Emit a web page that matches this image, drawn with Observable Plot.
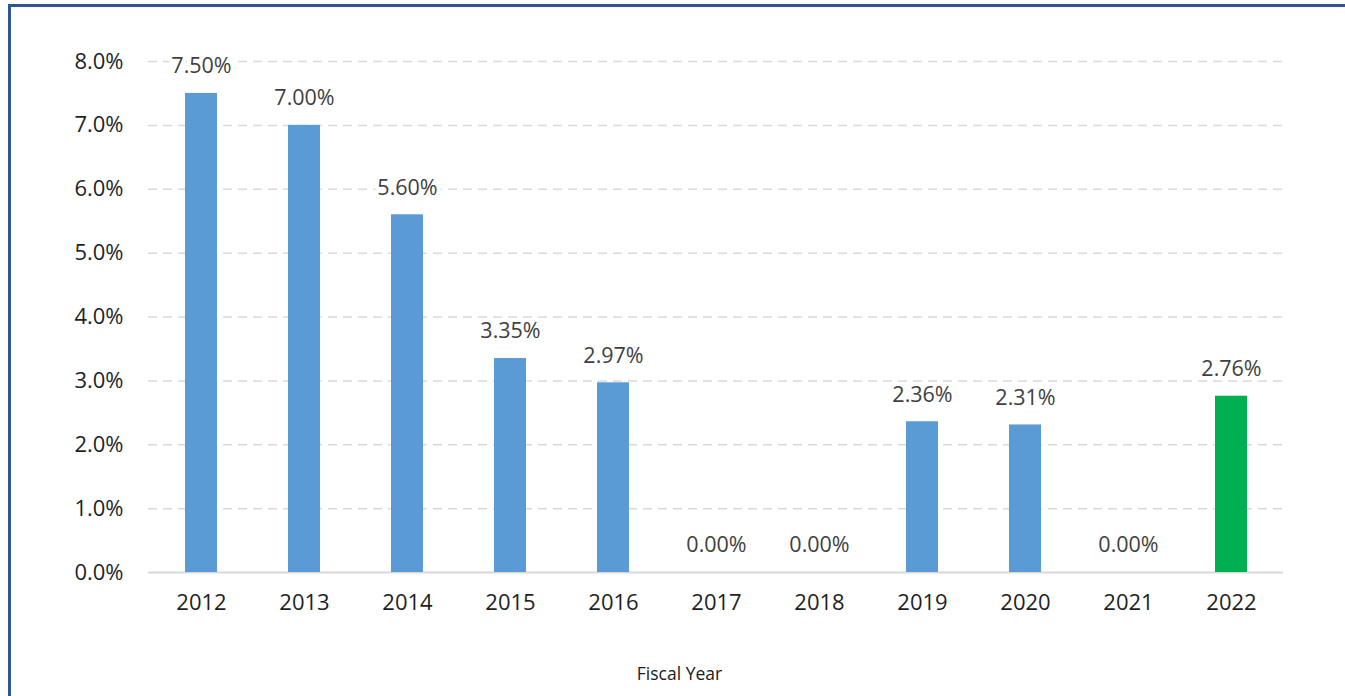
<!DOCTYPE html>
<html>
<head>
<meta charset="utf-8">
<script src="https://cdn.jsdelivr.net/npm/d3@7"></script>
<script src="https://cdn.jsdelivr.net/npm/@observablehq/plot@0.6"></script>
<style>
  html, body { margin: 0; padding: 0; background: #fff; overflow: hidden; }
  #frame { position: absolute; left: 8px; top: 4px; width: 1400px; height: 800px;
           border-top: 3px solid #2f5597; border-left: 3px solid #2f5597; box-sizing: border-box; }
  #chart { position: absolute; left: 0; top: 0; }
  #xlabel { position: absolute; left: 0; width: 1345px; top: 661px; text-align: center;
            font-family: "Open Sans", sans-serif; font-size: 17.5px; color: #1a1a1a; padding-left: 14px; box-sizing: border-box; }
</style>
</head>
<body>
<div id="frame"></div>
<div id="chart"></div>
<div id="xlabel">Fiscal Year</div>
<script>
const years = ["2012","2013","2014","2015","2016","2017","2018","2019","2020","2021","2022"];
const rates = [7.50, 7.00, 5.60, 3.35, 2.97, 0.00, 0.00, 2.36, 2.31, 0.00, 2.76];
const barColors = ["#5b9bd5","#5b9bd5","#5b9bd5","#5b9bd5","#5b9bd5","#5b9bd5","#5b9bd5","#5b9bd5","#5b9bd5","#5b9bd5","#00b050"];
const yTicks = [0, 1, 2, 3, 4, 5, 6, 7, 8];

const data = years.map((y, i) => ({year: y, rate: rates[i], color: barColors[i]}));

const chart = Plot.plot({
  width: 1345,
  height: 696,
  marginLeft: 148,
  marginRight: 62,
  marginTop: 61,
  marginBottom: 124,
  style: {fontFamily: "Open Sans, sans-serif", fontSize: "21px", background: "transparent"},
  x: {domain: years, paddingInner: 0.69, paddingOuter: 0.32, label: null},
  y: {domain: [0, 8], label: null},
  marks: [
    Plot.ruleY(yTicks.filter(d => d > 0), {stroke: "#d9d9d9", strokeWidth: 1.5, strokeDasharray: "9,6"}),
    Plot.ruleY([0], {stroke: "#d9d9d9", strokeWidth: 2}),
    Plot.barY(data, {x: "year", y: "rate", fill: "color"}),
    Plot.text(data, {x: "year", y: "rate", text: d => d.rate.toFixed(2) + "%", dy: -27,
      fill: "#404040", stroke: "white", strokeWidth: 8, fontSize: 21.5}),
    Plot.axisY({ticks: yTicks, tickSize: 0, tickPadding: 25, tickFormat: d => d.toFixed(1) + "%",
      fill: "#1f1f1f", fontSize: 22, label: null}),
    Plot.axisX({tickSize: 0, tickPadding: 22, fill: "#1f1f1f", fontSize: 22, label: null})
  ]
});
document.getElementById("chart").appendChild(chart);
</script>
</body>
</html>
